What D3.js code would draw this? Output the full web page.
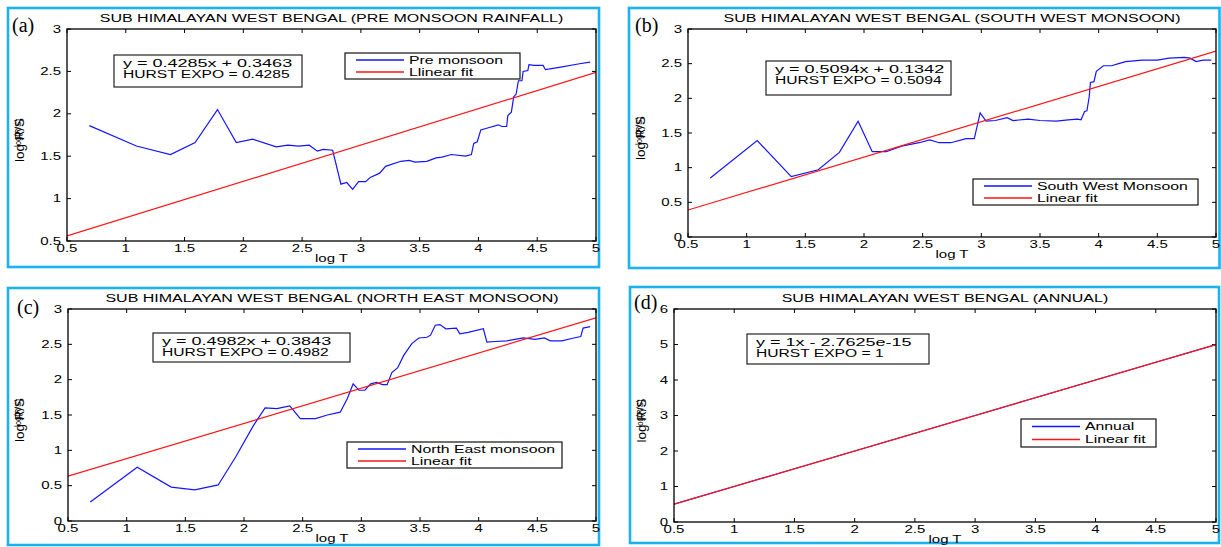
<!DOCTYPE html>
<html><head><meta charset="utf-8">
<script src="https://cdn.jsdelivr.net/npm/d3@7"></script>
<style>
html,body{margin:0;padding:0;background:#fff;}
svg text{font-family:"Liberation Sans",Arial,sans-serif;fill:#000;}
</style>
</head><body>
<svg id="c" width="1221" height="547"></svg>
<script>
// ---------------- DATA ----------------
const xTicks = [0.5,1,1.5,2,2.5,3,3.5,4,4.5,5];
const yTicksA = [0.5,1,1.5,2,2.5,3];
const yTicksB = [0,0.5,1,1.5,2,2.5,3];
const yTicksC = [0,0.5,1,1.5,2,2.5,3];
const yTicksD = [0,1,2,3,4,5,6];

const titles = [
  "SUB HIMALAYAN WEST BENGAL (PRE MONSOON RAINFALL)",
  "SUB HIMALAYAN WEST BENGAL (SOUTH WEST MONSOON)",
  "SUB HIMALAYAN WEST BENGAL (NORTH EAST MONSOON)",
  "SUB HIMALAYAN WEST BENGAL (ANNUAL)"
];
const panelLetters = ["(a)","(b)","(c)","(d)"];
const seriesNames = ["Pre monsoon","South West Monsoon","North East monsoon","Annual"];
const fitNames = ["Llinear fit","Linear fit","Linear fit","Linear fit"];
const eqTexts = ["y = 0.4285x + 0.3463","y = 0.5094x + 0.1342","y = 0.4982x + 0.3843","y = 1x - 2.7625e-15"];
const hurstTexts = ["HURST EXPO = 0.4285","HURST EXPO = 0.5094","HURST EXPO = 0.4982","HURST EXPO = 1"];
const fitSlope = [0.4285,0.5094,0.4982,1];
const fitIntercept = [0.3463,0.1342,0.3843,-2.7625e-15];

const preX = [0.69,1.09,1.38,1.59,1.78,1.94,2.08,2.28,2.38,2.47,2.56,2.63,2.68,2.76,2.83,2.88,2.93,2.98,3.04,3.08,3.16,3.21,3.34,3.41,3.46,3.56,3.64,3.69,3.77,3.89,3.94,3.96,3.99,4.02,4.07,4.17,4.20,4.24,4.25,4.28,4.30,4.32,4.34,4.37,4.38,4.42,4.43,4.47,4.55,4.57,4.70,4.86,4.95];
const preY = [1.86,1.62,1.52,1.66,2.05,1.66,1.70,1.61,1.63,1.62,1.63,1.56,1.58,1.57,1.17,1.19,1.11,1.20,1.20,1.25,1.30,1.38,1.44,1.45,1.43,1.44,1.48,1.49,1.52,1.50,1.52,1.65,1.67,1.81,1.83,1.87,1.85,1.85,1.98,2.02,2.20,2.23,2.39,2.39,2.50,2.51,2.58,2.57,2.57,2.52,2.55,2.59,2.61];

const swX = [0.69,1.09,1.38,1.61,1.79,1.95,2.07,2.19,2.32,2.47,2.56,2.64,2.74,2.87,2.94,2.99,3.04,3.12,3.22,3.27,3.40,3.50,3.64,3.74,3.82,3.85,3.88,3.90,3.92,3.93,3.96,3.98,4.04,4.11,4.17,4.23,4.37,4.50,4.60,4.73,4.78,4.83,4.89,4.96];
const swY = [0.85,1.39,0.87,0.97,1.22,1.67,1.23,1.23,1.31,1.36,1.40,1.36,1.36,1.42,1.42,1.79,1.67,1.68,1.72,1.68,1.70,1.68,1.67,1.69,1.70,1.69,1.81,1.82,2.03,2.23,2.24,2.39,2.47,2.47,2.50,2.53,2.55,2.55,2.58,2.59,2.58,2.53,2.55,2.55];

const neX = [0.69,1.09,1.38,1.58,1.78,1.93,2.08,2.18,2.28,2.39,2.48,2.61,2.71,2.82,2.88,2.93,2.98,3.03,3.08,3.13,3.18,3.22,3.26,3.31,3.36,3.43,3.49,3.56,3.59,3.63,3.67,3.72,3.81,3.84,3.91,4.04,4.07,4.14,4.24,4.38,4.48,4.56,4.61,4.71,4.81,4.87,4.89,4.95];
const neY = [0.27,0.76,0.48,0.44,0.51,0.91,1.35,1.60,1.59,1.63,1.45,1.45,1.50,1.54,1.73,1.94,1.85,1.85,1.94,1.96,1.93,1.93,2.10,2.17,2.34,2.51,2.59,2.60,2.63,2.77,2.78,2.72,2.73,2.65,2.67,2.72,2.53,2.54,2.55,2.59,2.57,2.59,2.55,2.55,2.59,2.61,2.73,2.75];

const annX = [0.5,1,1.5,2,2.5,3,3.5,4,4.5,5];
const annY = [0.5,1,1.5,2,2.5,3,3.5,4,4.5,5];

// ---------------- LAYOUT ----------------
const BLUE = "#1414ff", RED = "#ff1414", FRAME = "#1cb2ee";
const panels = [
  {frame:[8,8,599,267], plot:[67,29,596,241], yDom:[0.5,3], yTicks:yTicksA, xs:preX, ys:preY,
   box:[114,55,302,87], leg:[345,53,520,79], lab:[12,32]},
  {frame:[629,8,1219.5,268], plot:[688,29,1216,237], yDom:[0,3], yTicks:yTicksB, xs:swX, ys:swY,
   box:[766,61,951,95], leg:[973,179,1198,205], lab:[635,32]},
  {frame:[8,288,599,545], plot:[68,309,596,521], yDom:[0,3], yTicks:yTicksC, xs:neX, ys:neY,
   box:[153,333,350,362], leg:[347,442,562,468], lab:[17,314]},
  {frame:[630,287,1219,543], plot:[674,309,1216,522], yDom:[0,6], yTicks:yTicksD, xs:annX, ys:annY,
   box:[747,334,929,364], leg:[1021,419,1156,447], lab:[634,309]}
];

const svg = d3.select("#c");
function stretch(sel, f){
  sel.each(function(){
    const L = this.getComputedTextLength();
    this.setAttribute("textLength", L*f);
    this.setAttribute("lengthAdjust","spacingAndGlyphs");
  });
  return sel;
}

panels.forEach((p,i)=>{
  const g = svg.append("g");
  const [fl,ft,fr,fb] = p.frame;
  g.append("rect").attr("x",fl).attr("y",ft).attr("width",fr-fl).attr("height",fb-ft)
    .attr("fill","none").attr("stroke",FRAME).attr("stroke-width",2.6);

  const [l,t,r,b] = p.plot;
  const x = d3.scaleLinear().domain([0.5,5]).range([l,r]);
  const y = d3.scaleLinear().domain(p.yDom).range([b,t]);

  const clipId = "clip"+i;
  svg.append("clipPath").attr("id",clipId).append("rect").attr("x",l).attr("y",t).attr("width",r-l).attr("height",b-t);

  // ticks (inward, all four sides)
  const tl = 4;
  const ax = g.append("g").attr("stroke","#000").attr("stroke-width",1);
  xTicks.forEach(v=>{
    ax.append("line").attr("x1",x(v)).attr("x2",x(v)).attr("y1",b).attr("y2",b-tl);
    ax.append("line").attr("x1",x(v)).attr("x2",x(v)).attr("y1",t).attr("y2",t+tl);
  });
  p.yTicks.forEach(v=>{
    ax.append("line").attr("x1",l).attr("x2",l+tl).attr("y1",y(v)).attr("y2",y(v));
    ax.append("line").attr("x1",r).attr("x2",r-tl).attr("y1",y(v)).attr("y2",y(v));
  });

  xTicks.forEach(v=>{
    stretch(g.append("text").attr("x",x(v)).attr("y",b+11).attr("text-anchor","middle")
      .attr("font-size",10).text(String(v)),1.5);
  });
  p.yTicks.forEach(v=>{
    stretch(g.append("text").attr("x",l-6).attr("y",y(v)+3.5).attr("text-anchor","end")
      .attr("font-size",10).text(String(v)),1.5);
  });

  // data lines
  const line = d3.line().x(d=>x(d[0])).y(d=>y(d[1]));
  const pts = p.xs.map((v,k)=>[v,p.ys[k]]);
  const dg = g.append("g").attr("clip-path",`url(#${clipId})`);
  dg.append("path").attr("d",line(pts)).attr("fill","none").attr("stroke",BLUE).attr("stroke-width",1.2);
  const fitPts = [0.5,5].map(v=>[v, fitSlope[i]*v+fitIntercept[i]]);
  dg.append("path").attr("d",line(fitPts)).attr("fill","none").attr("stroke",RED).attr("stroke-width",1.2);

  g.append("rect").attr("x",l).attr("y",t).attr("width",r-l).attr("height",b-t)
    .attr("fill","none").attr("stroke","#000").attr("stroke-width",1.3);

  // title
  stretch(g.append("text").attr("x",(l+r)/2).attr("y",t-7).attr("text-anchor","middle")
    .attr("font-size",10).text(titles[i]),1.6);
  // x label
  stretch(g.append("text").attr("x",(l+r)/2).attr("y",b+21).attr("text-anchor","middle")
    .attr("font-size",10).text("log T"),1.5);
  // y label (overlapping labels as in original)
  const cy = (t+b)/2 + 5;
  const lx = fl + 16;
  g.append("text").attr("transform",`translate(${lx},${cy}) rotate(-90)`).attr("text-anchor","middle")
    .attr("font-size",12).attr("textLength",44).attr("lengthAdjust","spacingAndGlyphs").text("log R/S");
  g.append("text").attr("transform",`translate(${lx-3},${cy-7}) rotate(-90)`).attr("text-anchor","middle")
    .attr("font-size",9).attr("textLength",28).attr("lengthAdjust","spacingAndGlyphs").text("log(R/S)");

  // panel letter
  g.append("text").attr("x",p.lab[0]).attr("y",p.lab[1])
    .style("font-family","'Liberation Serif','Times New Roman',serif").attr("font-size",20).text(panelLetters[i]);

  // equation box
  const [bl,bt,br,bb] = p.box;
  g.append("rect").attr("x",bl).attr("y",bt).attr("width",br-bl).attr("height",bb-bt)
    .attr("fill","#fff").attr("stroke","#222").attr("stroke-width",1.2);
  stretch(g.append("text").attr("x",bl+9).attr("y",bt+12).attr("font-size",10).text(eqTexts[i]),1.8);
  stretch(g.append("text").attr("x",bl+9).attr("y",bt+22.5).attr("font-size",10).text(hurstTexts[i]),1.56);

  // legend
  const [gl,gt,gr,gb] = p.leg;
  g.append("rect").attr("x",gl).attr("y",gt).attr("width",gr-gl).attr("height",gb-gt)
    .attr("fill","#fff").attr("stroke","#111").attr("stroke-width",1.2);
  const rows = [[seriesNames[i],BLUE],[fitNames[i],RED]];
  const rh = (gb-gt)/2;
  rows.forEach((rw,k)=>{
    const yy = gt + rh*(k+0.5) + (k===0?0.5:-0.5);
    g.append("line").attr("x1",gl+11).attr("x2",gl+59).attr("y1",yy).attr("y2",yy)
      .attr("stroke",rw[1]).attr("stroke-width",1.3);
    stretch(g.append("text").attr("x",gl+64).attr("y",yy+3.5).attr("font-size",10).text(rw[0]),1.58);
  });
});
</script>
</body></html>
